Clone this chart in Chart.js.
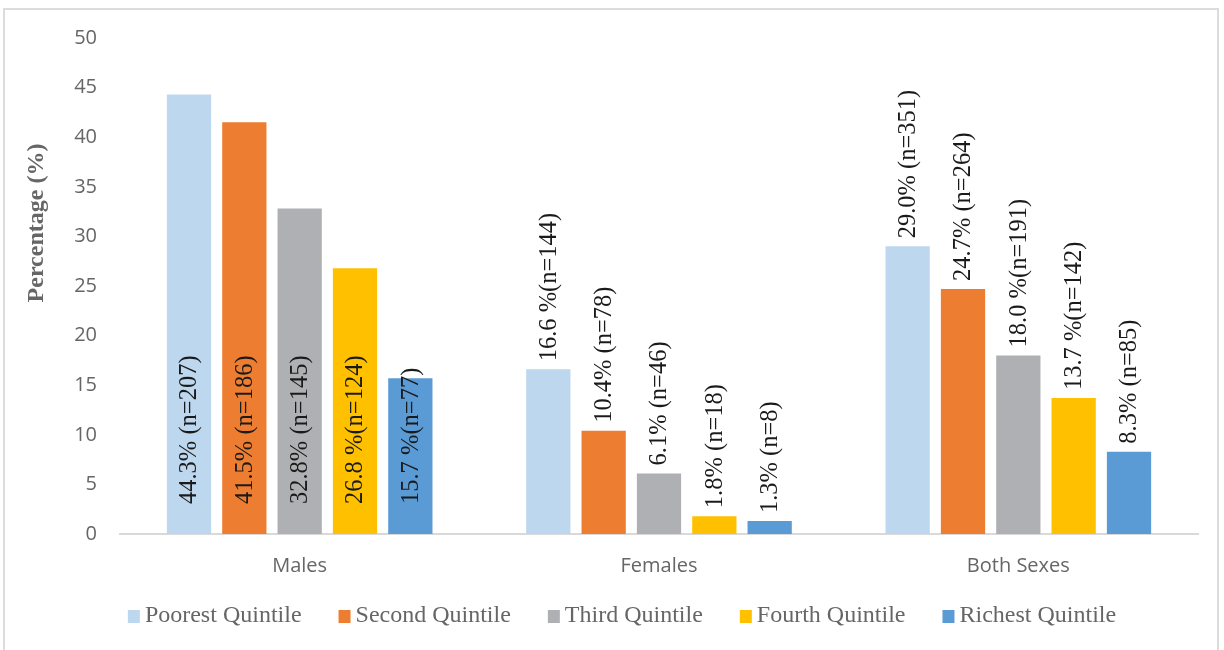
<!DOCTYPE html>
<html>
<head>
<meta charset="utf-8">
<script src="https://cdn.jsdelivr.net/npm/chart.js@4.4.1/dist/chart.umd.min.js"></script>
<style>
  body { margin: 0; background: #fff; }
  #wrap { position: relative; width: 1224px; height: 650px; }
  #frame { position: absolute; left: 3px; top: 8px; width: 1212px; height: 660px; border: 2px solid #dcdcdc; pointer-events: none; }
  canvas { position: absolute; left: 0; top: 0; }
</style>
</head>
<body>
<div id="wrap">
  <canvas id="myChart" width="1224" height="650"></canvas>
  <div id="frame"></div>
</div>
<script>
// categories and series
const groups = ['Males', 'Females', 'Both Sexes'];
const seriesNames = ['Poorest Quintile', 'Second Quintile', 'Third Quintile', 'Fourth Quintile', 'Richest Quintile'];
const seriesColors = ['#BDD7EE', '#ED7D31', '#AFB0B3', '#FFC000', '#5B9BD5'];

const poorest = [44.3, 16.6, 29.0];
const second = [41.5, 10.4, 24.7];
const third = [32.8, 6.1, 18.0];
const fourth = [26.8, 1.8, 13.7];
const richest = [15.7, 1.3, 8.3];

// text shown on each bar
const poorestLabels = ['44.3% (n=207)', '16.6 %(n=144)', '29.0% (n=351)'];
const secondLabels = ['41.5% (n=186)', '10.4% (n=78)', '24.7% (n=264)'];
const thirdLabels = ['32.8% (n=145)', '6.1% (n=46)', '18.0 %(n=191)'];
const fourthLabels = ['26.8 %(n=124)', '1.8% (n=18)', '13.7 %(n=142)'];
const richestLabels = ['15.7 %(n=77)', '1.3% (n=8)', '8.3% (n=85)'];

const allValues = [poorest, second, third, fourth, richest];
const allLabels = [poorestLabels, secondLabels, thirdLabels, fourthLabels, richestLabels];

const serif = '"Liberation Serif", "Times New Roman", serif';
const sans = '"Open Sans", "Noto Sans", sans-serif';

// draws the rotated value labels, the y axis title and the legend
const barLabels = {
  id: 'barLabels',
  afterDatasetsDraw(chart) {
    const ctx = chart.ctx;
    ctx.save();
    ctx.font = '24.5px ' + serif;
    ctx.fillStyle = '#1a1a1a';
    ctx.textAlign = 'left';
    ctx.textBaseline = 'middle';
    chart.data.datasets.forEach((ds, i) => {
      const meta = chart.getDatasetMeta(i);
      meta.data.forEach((bar, j) => {
        let startY;
        if (j === 0) {
          startY = bar.base - 30; // inside, near the base
        } else {
          startY = bar.y - 8; // just above the bar
        }
        ctx.save();
        ctx.translate(bar.x + 1, startY);
        ctx.rotate(-Math.PI / 2);
        ctx.fillText(allLabels[i][j], 0, 0);
        ctx.restore();
      });
    });

    // y axis title
    ctx.save();
    ctx.font = 'bold 24px ' + serif;
    ctx.fillStyle = '#666';
    ctx.textAlign = 'center';
    ctx.textBaseline = 'middle';
    ctx.translate(37, 223);
    ctx.rotate(-Math.PI / 2);
    ctx.fillText('Percentage (%)', 0, 0);
    ctx.restore();

    // legend row
    ctx.font = '24px ' + serif;
    const boxW = 12, textGap = 17, itemGap = 37, legendY = 616;
    const widths = chart.data.datasets.map((ds) => ctx.measureText(ds.label).width);
    let total = 0;
    widths.forEach((w, i) => { total += textGap + w + (i < widths.length - 1 ? itemGap : 0); });
    let x = 622 - total / 2;
    chart.data.datasets.forEach((ds, i) => {
      ctx.fillStyle = ds.backgroundColor;
      ctx.fillRect(x, legendY - 6, boxW, 13);
      ctx.fillStyle = '#666';
      ctx.textAlign = 'left';
      ctx.fillText(ds.label, x + textGap, legendY);
      x += textGap + widths[i] + itemGap;
    });
    ctx.restore();
  }
};

function makeDatasets() {
  return seriesNames.map((name, i) => ({
    label: name,
    data: allValues[i],
    backgroundColor: seriesColors[i],
    categoryPercentage: 0.77,
    barPercentage: 0.8
  }));
}

const config = {
  type: 'bar',
  data: {
    labels: groups,
    datasets: makeDatasets()
  },
  options: {
    responsive: false,
    animation: false,
    layout: { padding: { left: 0, right: 26, top: 38, bottom: 60 } },
    plugins: {
      tooltip: { enabled: false },
      legend: { display: false }
    },
    scales: {
      x: {
        grid: { display: false },
        border: { display: true, color: '#d9d9d9', width: 2 },
        ticks: { font: { family: sans, size: 20 }, color: '#666', padding: 12 }
      },
      y: {
        min: 0,
        max: 50,
        grid: { display: false, drawTicks: false },
        border: { display: false },
        ticks: { stepSize: 5, font: { family: sans, size: 20 }, color: '#666', padding: 23 },
        afterFit(scale) { scale.width = 120; }
      }
    }
  },
  plugins: [barLabels]
};

document.addEventListener('DOMContentLoaded', () => {
  const target = document.querySelector('#myChart');
  const chart = new Chart(target, config);
  console.log(chart.chartArea);
});
</script>
</body>
</html>
